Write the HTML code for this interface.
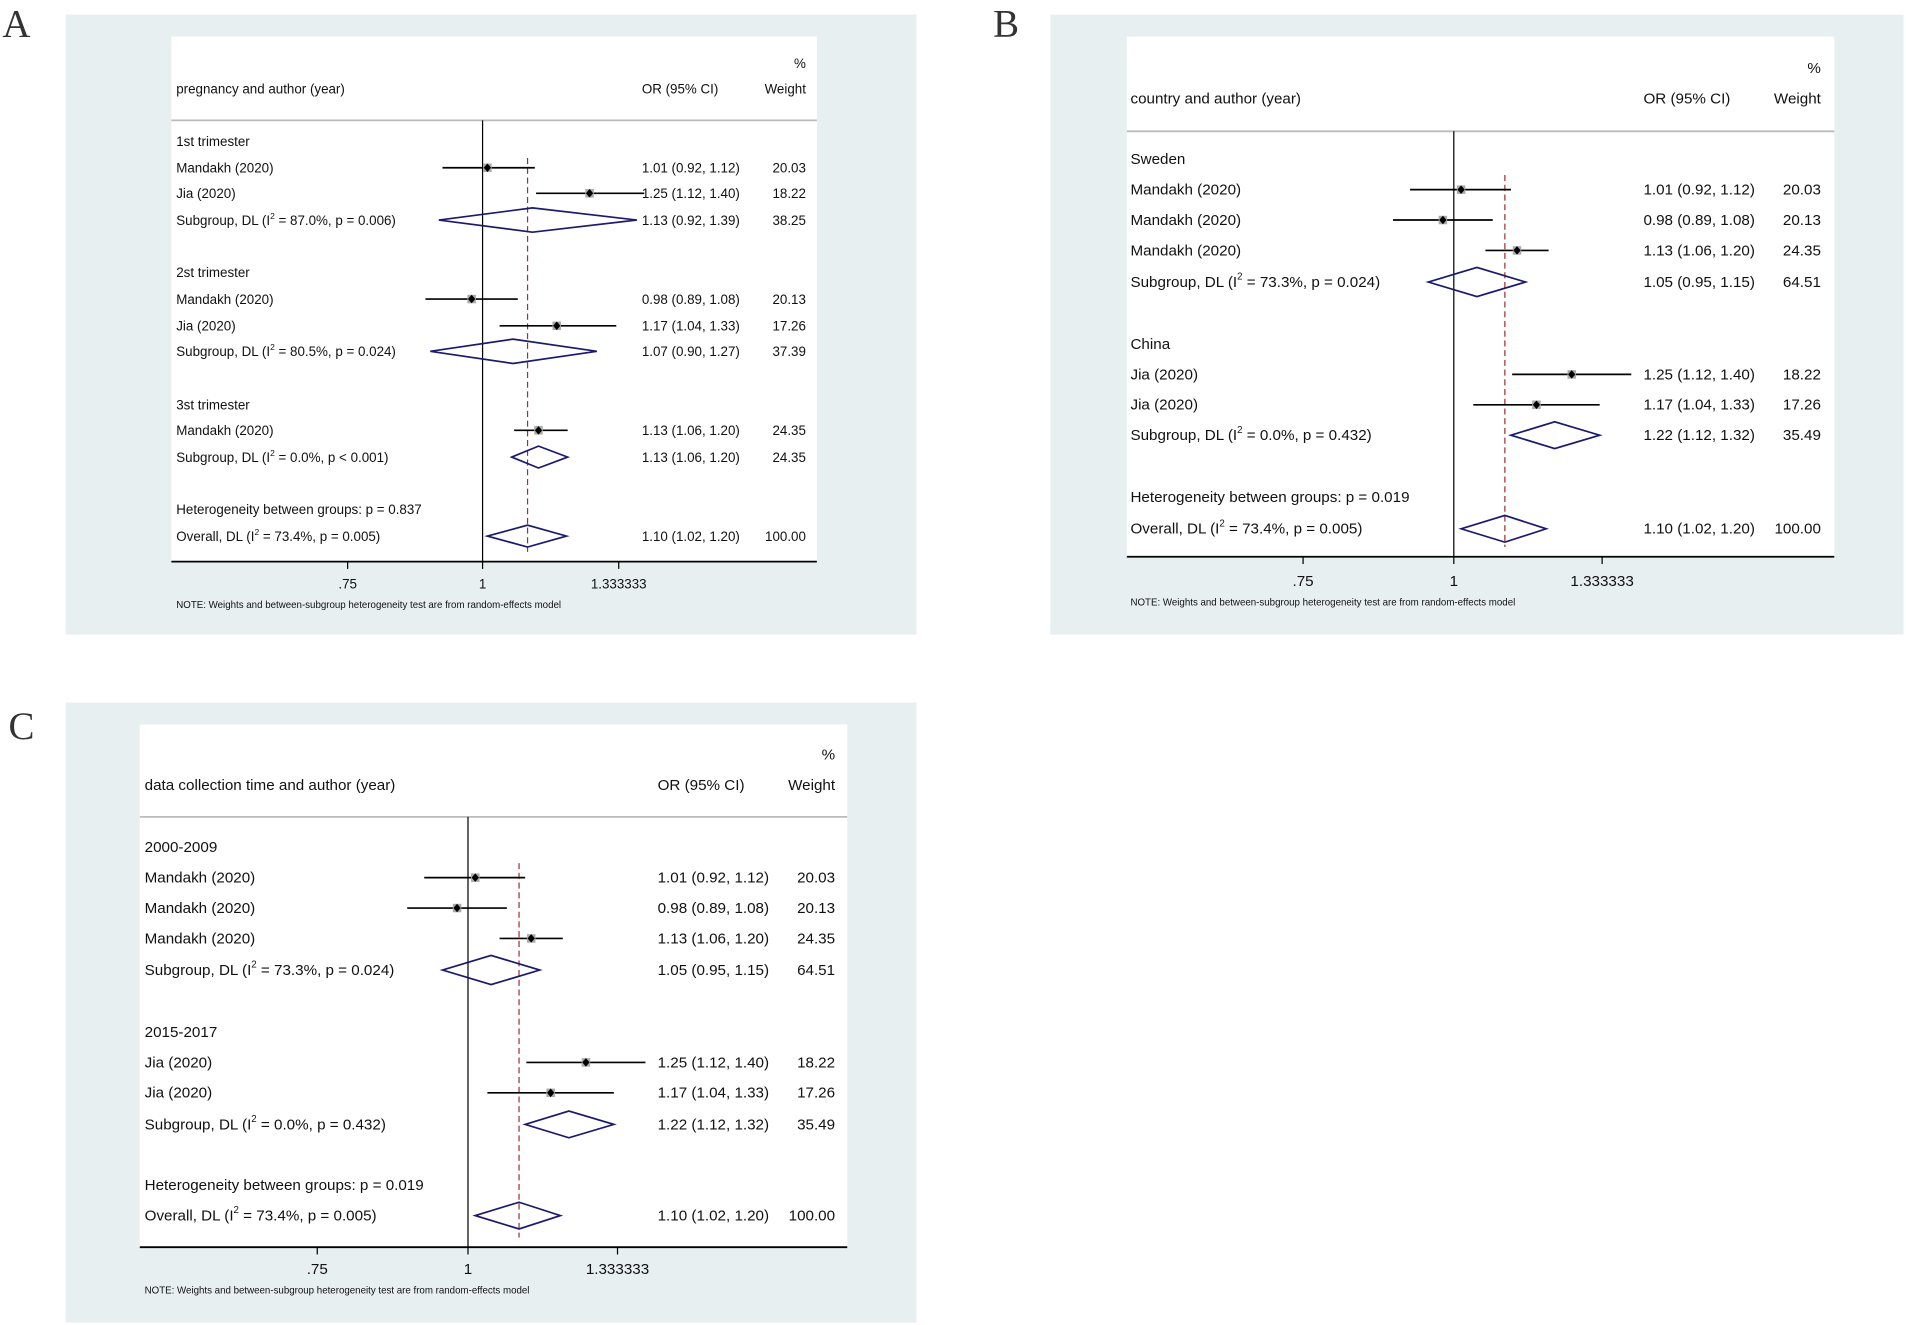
<!DOCTYPE html>
<html><head><meta charset="utf-8"><style>
html,body{margin:0;padding:0;background:#fff;width:1906px;height:1325px;overflow:hidden}
svg{display:block}
text{font-family:"Liberation Sans",Arial,sans-serif;fill:#111}
.a{font-size:11px}.b{font-size:12.5px}
.n{font-size:8px}
.L{font-family:"Liberation Serif",serif;font-size:32px;fill:#333}
.ci{stroke:#000;stroke-width:1.4}
.dm{fill:none;stroke:#1a1a6e;stroke-width:1.4}
.ds{stroke:#a0302f;stroke-width:1;stroke-dasharray:5,3}
</style></head><body>
<svg width="1906" height="1325" viewBox="0 0 1568 1090" xmlns="http://www.w3.org/2000/svg">
<defs>
<g id="mk"><rect x="-3.5" y="-3.5" width="7" height="7" fill="#aaa"/><path d="M0,-3.5 L3,0 L0,3.5 L-3,0Z" fill="#000"/></g>
</defs>
<text class="L" x="2" y="30">A</text>
<text class="L" x="817" y="30">B</text>
<text class="L" x="7" y="608">C</text>

<!-- Panel A -->
<rect x="54" y="12" width="700" height="510" fill="#e8eff1"/>
<rect x="141" y="30" width="531" height="432" fill="#fff"/>
<line x1="141" y1="99" x2="672" y2="99" stroke="#bbb" stroke-width="1.5"/>
<line x1="141" y1="462" x2="672" y2="462" stroke="#000" stroke-width="1.5"/>
<line x1="397" y1="99" x2="397" y2="462" stroke="#000" stroke-width="1"/>
<line x1="434" y1="130" x2="434" y2="454" class="ds"/>
<g stroke="#000"><line x1="286" y1="462" x2="286" y2="468"/><line x1="397" y1="462" x2="397" y2="468"/><line x1="509" y1="462" x2="509" y2="468"/></g>
<g class="a">
<text x="286" y="484" text-anchor="middle">.75</text><text x="397" y="484" text-anchor="middle">1</text><text x="509" y="484" text-anchor="middle">1.333333</text>
<text x="663" y="56" text-anchor="end">%</text>
<text x="145" y="77">pregnancy and author (year)</text>
<text x="528" y="77">OR (95% CI)</text><text x="663" y="77" text-anchor="end">Weight</text>
<text x="145" y="120">1st trimester</text>
<text x="145" y="142">Mandakh (2020)</text><text x="528" y="142">1.01 (0.92, 1.12)</text><text x="663" y="142" text-anchor="end">20.03</text>
<text x="145" y="163">Jia (2020)</text><text x="528" y="163">1.25 (1.12, 1.40)</text><text x="663" y="163" text-anchor="end">18.22</text>
<text x="145" y="185">Subgroup, DL (I<tspan font-size="7" dy="-5">2</tspan><tspan dy="5"> = 87.0%, p = 0.006)</tspan></text><text x="528" y="185">1.13 (0.92, 1.39)</text><text x="663" y="185" text-anchor="end">38.25</text>
<text x="145" y="228">2st trimester</text>
<text x="145" y="250">Mandakh (2020)</text><text x="528" y="250">0.98 (0.89, 1.08)</text><text x="663" y="250" text-anchor="end">20.13</text>
<text x="145" y="272">Jia (2020)</text><text x="528" y="272">1.17 (1.04, 1.33)</text><text x="663" y="272" text-anchor="end">17.26</text>
<text x="145" y="293">Subgroup, DL (I<tspan font-size="7" dy="-5">2</tspan><tspan dy="5"> = 80.5%, p = 0.024)</tspan></text><text x="528" y="293">1.07 (0.90, 1.27)</text><text x="663" y="293" text-anchor="end">37.39</text>
<text x="145" y="337">3st trimester</text>
<text x="145" y="358">Mandakh (2020)</text><text x="528" y="358">1.13 (1.06, 1.20)</text><text x="663" y="358" text-anchor="end">24.35</text>
<text x="145" y="380">Subgroup, DL (I<tspan font-size="7" dy="-5">2</tspan><tspan dy="5"> = 0.0%, p &lt; 0.001)</tspan></text><text x="528" y="380">1.13 (1.06, 1.20)</text><text x="663" y="380" text-anchor="end">24.35</text>
<text x="145" y="423">Heterogeneity between groups: p = 0.837</text>
<text x="145" y="445">Overall, DL (I<tspan font-size="7" dy="-5">2</tspan><tspan dy="5"> = 73.4%, p = 0.005)</tspan></text><text x="528" y="445">1.10 (1.02, 1.20)</text><text x="663" y="445" text-anchor="end">100.00</text>
</g>
<text class="n" x="145" y="500">NOTE: Weights and between-subgroup heterogeneity test are from random-effects model</text>
<line class="ci" x1="364" y1="138" x2="440" y2="138"/><use href="#mk" x="401" y="138"/>
<line class="ci" x1="441" y1="159" x2="530" y2="159"/><use href="#mk" x="485" y="159"/>
<path class="dm" d="M361,181 L438,171 L524,181 L438,191Z"/>
<line class="ci" x1="350" y1="246" x2="426" y2="246"/><use href="#mk" x="388" y="246"/>
<line class="ci" x1="411" y1="268" x2="507" y2="268"/><use href="#mk" x="458" y="268"/>
<path class="dm" d="M354,289 L422,279 L491,289 L422,299Z"/>
<line class="ci" x1="423" y1="354" x2="467" y2="354"/><use href="#mk" x="443" y="354"/>
<path class="dm" d="M421,376 L443,367 L467,376 L443,385Z"/>
<path class="dm" d="M401,441 L434,432 L466,441 L434,450Z"/>

<!-- Panel B -->
<rect x="864" y="12" width="702" height="510" fill="#e8eff1"/>
<rect x="927" y="30" width="582" height="428" fill="#fff"/>
<line x1="927" y1="108" x2="1509" y2="108" stroke="#bbb" stroke-width="1.5"/>
<line x1="927" y1="458" x2="1509" y2="458" stroke="#000" stroke-width="1.5"/>
<line x1="1196" y1="108" x2="1196" y2="458" stroke="#000" stroke-width="1"/>
<line x1="1238" y1="144" x2="1238" y2="450" class="ds"/>
<g stroke="#000"><line x1="1072" y1="458" x2="1072" y2="464"/><line x1="1196" y1="458" x2="1196" y2="464"/><line x1="1318" y1="458" x2="1318" y2="464"/></g>
<g class="b">
<text x="1072" y="482" text-anchor="middle">.75</text><text x="1196" y="482" text-anchor="middle">1</text><text x="1318" y="482" text-anchor="middle">1.333333</text>
<text x="1498" y="60" text-anchor="end">%</text>
<text x="930" y="85">country and author (year)</text>
<text x="1352" y="85">OR (95% CI)</text><text x="1498" y="85" text-anchor="end">Weight</text>
<text x="930" y="135">Sweden</text>
<text x="930" y="160">Mandakh (2020)</text><text x="1352" y="160">1.01 (0.92, 1.12)</text><text x="1498" y="160" text-anchor="end">20.03</text>
<text x="930" y="185">Mandakh (2020)</text><text x="1352" y="185">0.98 (0.89, 1.08)</text><text x="1498" y="185" text-anchor="end">20.13</text>
<text x="930" y="210">Mandakh (2020)</text><text x="1352" y="210">1.13 (1.06, 1.20)</text><text x="1498" y="210" text-anchor="end">24.35</text>
<text x="930" y="236">Subgroup, DL (I<tspan font-size="8" dy="-6">2</tspan><tspan dy="6"> = 73.3%, p = 0.024)</tspan></text><text x="1352" y="236">1.05 (0.95, 1.15)</text><text x="1498" y="236" text-anchor="end">64.51</text>
<text x="930" y="287">China</text>
<text x="930" y="312">Jia (2020)</text><text x="1352" y="312">1.25 (1.12, 1.40)</text><text x="1498" y="312" text-anchor="end">18.22</text>
<text x="930" y="337">Jia (2020)</text><text x="1352" y="337">1.17 (1.04, 1.33)</text><text x="1498" y="337" text-anchor="end">17.26</text>
<text x="930" y="362">Subgroup, DL (I<tspan font-size="8" dy="-6">2</tspan><tspan dy="6"> = 0.0%, p = 0.432)</tspan></text><text x="1352" y="362">1.22 (1.12, 1.32)</text><text x="1498" y="362" text-anchor="end">35.49</text>
<text x="930" y="413">Heterogeneity between groups: p = 0.019</text>
<text x="930" y="439">Overall, DL (I<tspan font-size="8" dy="-6">2</tspan><tspan dy="6"> = 73.4%, p = 0.005)</tspan></text><text x="1352" y="439">1.10 (1.02, 1.20)</text><text x="1498" y="439" text-anchor="end">100.00</text>
</g>
<text class="n" x="930" y="498">NOTE: Weights and between-subgroup heterogeneity test are from random-effects model</text>
<line class="ci" x1="1160" y1="156" x2="1243" y2="156"/><use href="#mk" x="1202" y="156"/>
<line class="ci" x1="1146" y1="181" x2="1228" y2="181"/><use href="#mk" x="1187" y="181"/>
<line class="ci" x1="1222" y1="206" x2="1274" y2="206"/><use href="#mk" x="1248" y="206"/>
<path class="dm" d="M1175,232 L1215,220 L1255,232 L1215,244Z"/>
<line class="ci" x1="1244" y1="308" x2="1342" y2="308"/><use href="#mk" x="1293" y="308"/>
<line class="ci" x1="1212" y1="333" x2="1316" y2="333"/><use href="#mk" x="1264" y="333"/>
<path class="dm" d="M1243,358 L1279,347 L1316,358 L1279,369Z"/>
<path class="dm" d="M1202,435 L1238,424 L1272,435 L1238,446Z"/>

<!-- Panel C -->
<rect x="54" y="578" width="700" height="510" fill="#e8eff1"/>
<rect x="115" y="596" width="582" height="430" fill="#fff"/>
<line x1="115" y1="672" x2="697" y2="672" stroke="#bbb" stroke-width="1.5"/>
<line x1="115" y1="1026" x2="697" y2="1026" stroke="#000" stroke-width="1.5"/>
<line x1="385" y1="672" x2="385" y2="1026" stroke="#000" stroke-width="1"/>
<line x1="427" y1="710" x2="427" y2="1018" class="ds"/>
<g stroke="#000"><line x1="261" y1="1026" x2="261" y2="1032"/><line x1="385" y1="1026" x2="385" y2="1032"/><line x1="508" y1="1026" x2="508" y2="1032"/></g>
<g class="b">
<text x="261" y="1048" text-anchor="middle">.75</text><text x="385" y="1048" text-anchor="middle">1</text><text x="508" y="1048" text-anchor="middle">1.333333</text>
<text x="687" y="625" text-anchor="end">%</text>
<text x="119" y="650">data collection time and author (year)</text>
<text x="541" y="650">OR (95% CI)</text><text x="687" y="650" text-anchor="end">Weight</text>
<text x="119" y="701">2000-2009</text>
<text x="119" y="726">Mandakh (2020)</text><text x="541" y="726">1.01 (0.92, 1.12)</text><text x="687" y="726" text-anchor="end">20.03</text>
<text x="119" y="751">Mandakh (2020)</text><text x="541" y="751">0.98 (0.89, 1.08)</text><text x="687" y="751" text-anchor="end">20.13</text>
<text x="119" y="776">Mandakh (2020)</text><text x="541" y="776">1.13 (1.06, 1.20)</text><text x="687" y="776" text-anchor="end">24.35</text>
<text x="119" y="802">Subgroup, DL (I<tspan font-size="8" dy="-6">2</tspan><tspan dy="6"> = 73.3%, p = 0.024)</tspan></text><text x="541" y="802">1.05 (0.95, 1.15)</text><text x="687" y="802" text-anchor="end">64.51</text>
<text x="119" y="853">2015-2017</text>
<text x="119" y="878">Jia (2020)</text><text x="541" y="878">1.25 (1.12, 1.40)</text><text x="687" y="878" text-anchor="end">18.22</text>
<text x="119" y="903">Jia (2020)</text><text x="541" y="903">1.17 (1.04, 1.33)</text><text x="687" y="903" text-anchor="end">17.26</text>
<text x="119" y="929">Subgroup, DL (I<tspan font-size="8" dy="-6">2</tspan><tspan dy="6"> = 0.0%, p = 0.432)</tspan></text><text x="541" y="929">1.22 (1.12, 1.32)</text><text x="687" y="929" text-anchor="end">35.49</text>
<text x="119" y="979">Heterogeneity between groups: p = 0.019</text>
<text x="119" y="1004">Overall, DL (I<tspan font-size="8" dy="-6">2</tspan><tspan dy="6"> = 73.4%, p = 0.005)</tspan></text><text x="541" y="1004">1.10 (1.02, 1.20)</text><text x="687" y="1004" text-anchor="end">100.00</text>
</g>
<text class="n" x="119" y="1064">NOTE: Weights and between-subgroup heterogeneity test are from random-effects model</text>
<line class="ci" x1="349" y1="722" x2="432" y2="722"/><use href="#mk" x="391" y="722"/>
<line class="ci" x1="335" y1="747" x2="417" y2="747"/><use href="#mk" x="376" y="747"/>
<line class="ci" x1="411" y1="772" x2="463" y2="772"/><use href="#mk" x="437" y="772"/>
<path class="dm" d="M364,798 L404,786 L444,798 L404,810Z"/>
<line class="ci" x1="433" y1="874" x2="531" y2="874"/><use href="#mk" x="482" y="874"/>
<line class="ci" x1="401" y1="899" x2="505" y2="899"/><use href="#mk" x="453" y="899"/>
<path class="dm" d="M432,925 L468,914 L505,925 L468,936Z"/>
<path class="dm" d="M391,1000 L427,989 L461,1000 L427,1011Z"/>
</svg>
</body></html>
